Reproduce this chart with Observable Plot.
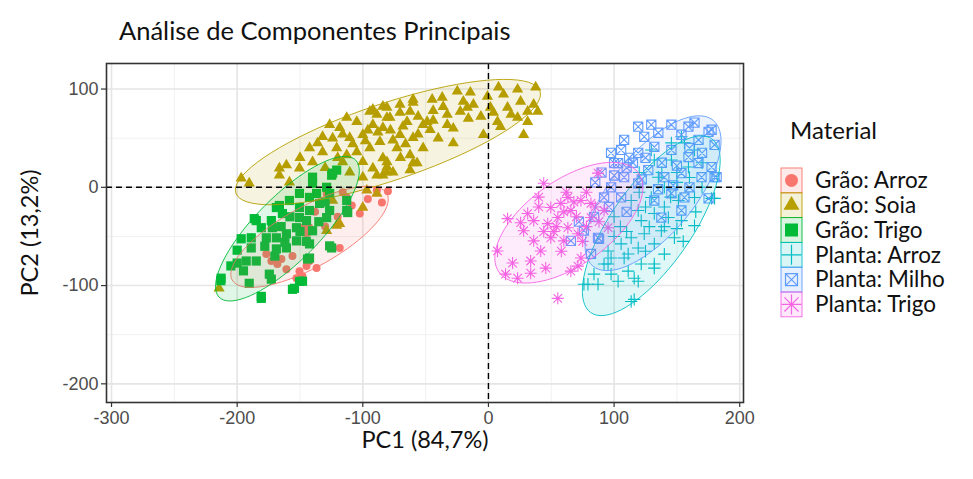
<!DOCTYPE html>
<html><head><meta charset="utf-8">
<script src="https://cdn.jsdelivr.net/npm/d3@7"></script>
<script src="https://cdn.jsdelivr.net/npm/@observablehq/plot@0.6"></script>
<style>
body{margin:0;background:#fff;}
#wrap{position:relative;width:973px;height:479px;overflow:hidden;font-family:Lato,sans-serif;background:#fff;}
#title{position:absolute;left:119px;top:15px;font-size:25.5px;color:#111;white-space:nowrap;}
#chart{position:absolute;left:0;top:50px;}
#legend{position:absolute;left:0;top:0;pointer-events:none;}
</style></head><body>
<div id="wrap"><div id="title">Análise de Componentes Principais</div><div id="chart"></div><svg id="legend" width="973" height="479"></svg></div>
<script>
// ---------- data ----------
const groups = ["Grão: Arroz","Grão: Soia","Grão: Trigo","Planta: Arroz","Planta: Milho","Planta: Trigo"];
const colors = ["#F8766D","#B79F00","#00BA38","#00BFC4","#619CFF","#F564E3"];
const xTicks = [-300,-200,-100,0,100,200];
const yTicks = [-200,-100,0,100];
const xMinor = [-250,-150,-50,50,150];
const yMinor = [-150,-50,50];
const xLabel = "PC1 (84,7%)";
const yLabel = "PC2 (13,2%)";
const legendTitle = "Material";

const graoArroz = [[-84.8,-15.4],[-88.8,-3.1],[-80,-4],[-102.4,-26.7],[-108.8,-18.5],[-112.8,-10.3],[-128.8,-6.2],[-118.4,-61.7],[-168,-78],[-160.8,-83.3],[-150.4,-85.3],[-172.8,-75],[-144.8,-80.2],[-142.4,-75],[-152.8,-92.5],[-176.8,-67.8],[-164.8,-73],[-148,-90.5],[-136.8,-82.2],[-156,-70],[-130,-40],[-120,-30],[-138,-25],[-116,-5],[-96,-12]];
const graoArrozMean = [[-144.8,-43]];
const graoSoia = [[-24.8,97.7],[-14.4,96.6],[8,101.8],[23.2,99.7],[37.6,101.8],[-0.8,92.5],[12,94.6],[-44.8,89.4],[-36.8,91.5],[-60,89.4],[-20,87.4],[-12,84.3],[1.6,81.2],[15.2,81.2],[25.6,87.4],[36,84.3],[31.2,77.1],[39.2,77.1],[23.2,70.9],[31.2,66.8],[7.2,66.8],[9.6,61.7],[-4,53.5],[28,53.5],[-22.4,77.1],[-16.8,81.2],[-32.8,74],[-32.8,63.7],[-48.8,66.8],[-46.4,58.6],[-70.4,84.3],[-62.4,77.1],[-80.8,81.2],[-78.4,70.9],[-64.8,66.8],[-84,60.7],[-70.4,53.5],[-60,50.4],[-72.8,40.1],[-62.4,32.9],[-60,24.7],[-80.8,25.7],[-76,15.4],[-84,12.3],[-196.8,9.3],[-190.4,4.1],[-160.8,22.6],[-166.4,19.5],[-150.4,19.5],[-142.4,40.1],[-132,51.4],[-126.4,63.7],[-118.4,60.7],[-112.8,70.9],[-104.8,66.8],[-94.4,77.1],[-88.8,74],[-84,82.2],[-80.8,70.9],[-92,63.7],[-100,53.5],[-110.4,50.4],[-120.8,40.1],[-132,36],[-140,25.7],[-112.8,32.9],[-104.8,36],[-94.4,40.1],[-86.4,46.3],[-84,29.8],[-92,19.5],[-88.8,12.3],[-80.8,15.4],[-110.4,15.4],[-116,25.7],[-158.4,5.1],[-166.4,12.3],[-92,79.2],[-70.4,76],[-60,86.4],[-52,63.7],[-56.8,24.7],[-62.4,17.5],[-80.8,20.6],[-96.8,-3.1],[-88.8,-6.2],[-100,10.3],[-128.8,-44.2],[-100,-20.6],[-118.4,-37],[-120.8,-39],[-214.4,-102.8],[-124,-13.4],[-96,58],[-76,48],[-68,62],[-56,72],[-44,78],[-40,50],[-28,45],[-52,40],[-100,26],[-124,50],[-136,45],[-116,54],[-108,44],[-98,47],[-88,56],[-78,58],[-66,44],[-56,54],[-44,68],[-36,82],[-28,60],[-16,70],[-6,72],[4,76],[18,74],[-120,30],[-70,30],[-130,20],[-150,30]];
const graoTrigo = [[-196.8,-52.4],[-188.8,-61.7],[-200,-77.1],[-192.8,-75],[-184.8,-75],[-212.8,-92.5],[-190.4,-97.7],[-180.8,-111],[-174.4,-88.4],[-172.8,-93.5],[-156,-103.8],[-150.4,-95.6],[-144,-73],[-168.8,-62.7],[-176.8,-51.4],[-180.8,-41.1],[-184.8,-33.9],[-172.8,-33.9],[-164,-26.7],[-166.4,-18.5],[-158.4,-13.4],[-150.4,-20.6],[-142.4,-23.6],[-134.4,-16.4],[-152.8,-41.1],[-160.8,-47.3],[-168.8,-51.4],[-152.8,-54.5],[-142.4,-57.6],[-160.8,-61.7],[-172,-41.1],[-140,4.1],[-128.8,0],[-136.8,-6.2],[-126.4,-6.2],[-124.8,12.3],[-120.8,17.5],[-112.8,-23.6],[-126.4,-23.6],[-128.8,-30.8],[-124.8,-61.7],[-142.4,-72],[-148,-95.6],[-154.4,-102.8],[-186.4,-31.9],[-188.8,-51.4],[-144.8,-33.9],[-150.4,-30.8],[-140,-44.2],[-150.4,-6.2],[-168.8,-20.6],[-142.4,-10.3],[-140,10.3],[-124,14.4],[-112.8,-13.4],[-112,-25.7],[-180.8,-113],[-126.4,-59.6],[-200,-64],[-213,-95],[-178,-60],[-165,-40],[-158,-30],[-150,-45],[-145,-55],[-135,-35],[-130,-15],[-162,-56],[-170,-70],[-195,-85],[-205,-80]];
const plantaArroz = [[153.6,51.4],[145.6,27.8],[132,27.8],[159.2,20.6],[140,0],[129.6,-10.3],[151.2,-13.4],[164,-10.3],[177.6,-11.3],[164,-39],[153.6,-33.9],[143.2,-30.8],[132,-26.7],[121.6,-33.9],[137.6,-44.2],[124,-47.3],[113.6,-51.4],[105.6,-57.6],[119.2,-61.7],[132,-57.6],[108,-72],[97.6,-72],[92,-78.1],[121.6,-78.1],[132,-78.1],[84,-88.4],[97.6,-88.4],[111.2,-85.3],[76,-98.7],[87.2,-98.7],[103.2,-95.6],[119.2,-95.6],[113.6,-116.2],[119.2,-23.6],[113.6,-13.4],[145.6,45.2],[156,45.2],[164,38],[180,-11.3],[135.2,10.3],[129.6,38],[79.2,-98.7],[95.2,-78.1],[116,-92.5],[116,-114],[132,-82.2],[148,-51.4],[95.2,-64.8],[111.2,-67.8],[125,-20],[140,-20],[150,5],[120,15],[105,-40],[100,-30],[138,15],[150,15],[160,10],[170,0],[145,-10],[120,-5],[128,-40],[140,-40],[150,-42],[110,-45],[100,-50],[125,-65],[140,-68],[155,-55],[170,25],[165,-25]];
const plantaMilho = [[119.2,61.7],[129.6,63.7],[145.6,63.7],[159.2,61.7],[175.2,56.5],[180,43.2],[167.2,48.3],[153.6,53.5],[135.2,55.5],[124,51.4],[108,48.3],[97.6,35],[105.6,38],[100,24.7],[119.2,35],[132,41.1],[145.6,38],[159.2,30.8],[167.2,24.7],[177.6,20.6],[181.6,10.3],[169.6,10.3],[175.2,-11.3],[156,-10.3],[145.6,-6.2],[132,-13.4],[119.2,4.1],[108,10.3],[127.2,17.5],[140,10.3],[153.6,14.4],[97.6,0],[92,-10.3],[105.6,-10.3],[87.2,-51.4],[81.6,-67.8],[153.6,-23.6],[137.6,-30.8],[103.2,24.7],[177.6,58.6],[180,10.3],[164,65.8],[65.6,-54.5],[76,-44],[84,-30],[72,-35],[88,-52.4],[115,25],[90,15],[85,5],[112,30],[125,30],[138,25],[150,22],[160,40],[170,35],[110,20],[122,8],[135,-2],[147,2],[160,0],[100,12],[96,-20],[110,-25]];
const plantaTrigo = [[44,4.1],[15.2,-31.9],[7.2,-64.8],[19.2,-77.1],[13.6,-88.4],[23.2,-92.5],[33.6,-87.4],[33.6,-75],[45.6,-82.2],[55.2,-113],[65.6,-85.3],[71.2,-80.2],[28,-44.2],[36,-33.9],[36,-54.5],[47.2,-37],[55.2,-30.8],[49.6,-20.6],[57.6,-16.4],[65.6,-23.6],[63.2,-10.3],[73.6,-13.4],[81.6,-16.4],[87.2,14.4],[81.6,-30.8],[71.2,-47.3],[41.6,-64.8],[60,-54.5],[49.6,-51.4],[31.2,-26.7],[25.6,-36],[73.6,-72],[63.2,-41.1],[95.2,-41.1],[92,-23.6],[40,-20],[52,-45],[62,-5],[78,-5],[60,-25],[70,-30],[78,-40],[85,-20],[68,-15],[54,-40],[44,-45],[88,-35],[75,-55],[58,-65],[40,-10]];

// ellipse parameters: centre (x,y), semi-axis vector A (x,y), semi-axis vector B (x,y), in data units
const ellGraoArroz = [-142.4,-50.4,61.6,43.9,11.6,-26.9];
const ellGraoSoia = [-80,46,121,52,10,-37];
const ellGraoTrigo = [-160,-42.1,54.3,69.8,18.1,-23.3];
const ellPlantaArroz = [129.6,-39.1,48.2,88.4,26.2,-23.5];
const ellPlantaMilho = [131,-6,48,74,25,-27];
const ellPlantaTrigo = [64,-36,55.7,50.2,19.3,-35.4];

// ---------- symbols ----------
const R = s => Math.sqrt(s/Math.PI);
const symTri = {draw(c,s){const r=R(s),h=r*1.732;c.moveTo(0,-2*h/3);c.lineTo(r,h/3);c.lineTo(-r,h/3);c.closePath();}};
const symSq = {draw(c,s){const r=R(s);c.rect(-r,-r,2*r,2*r);}};
const symPlus = {draw(c,s){const r=R(s);c.moveTo(-r,0);c.lineTo(r,0);c.moveTo(0,-r);c.lineTo(0,r);}};
const symSqX = {draw(c,s){const r=R(s);c.rect(-r,-r,2*r,2*r);c.moveTo(-r,-r);c.lineTo(r,r);c.moveTo(r,-r);c.lineTo(-r,r);}};
const symAst = {draw(c,s){const r=R(s),d=r*0.7071;c.moveTo(-r,0);c.lineTo(r,0);c.moveTo(0,-r);c.lineTo(0,r);c.moveTo(-d,-d);c.lineTo(d,d);c.moveTo(d,-d);c.lineTo(-d,d);}};
const symCirc = {draw(c,s){const r=R(s);c.moveTo(r,0);c.arc(0,0,r,0,2*Math.PI);}};

const pointSets = [graoArroz, graoSoia, graoTrigo, plantaArroz, plantaMilho, plantaTrigo];
const ellSets = [ellGraoArroz, ellGraoSoia, ellGraoTrigo, ellPlantaArroz, ellPlantaMilho, ellPlantaTrigo];
const syms = [symCirc, symTri, symSq, symPlus, symSqX, symAst];
const rs = [4, 5.6, 4.6, 6.2, 4.6, 6];
const filled = [true, true, true, false, false, false];

function ellipsePts(p){
  const out=[]; const n=80;
  for(let i=0;i<n;i++){const t=2*Math.PI*i/n; out.push([p[0]+p[2]*Math.cos(t)+p[4]*Math.sin(t), p[1]+p[3]*Math.cos(t)+p[5]*Math.sin(t)]);}
  return out;
}

const marks = [
  Plot.gridX(xMinor,{stroke:"#f1f1f1",strokeOpacity:1,strokeWidth:1}),
  Plot.gridY(yMinor,{stroke:"#f1f1f1",strokeOpacity:1,strokeWidth:1}),
  Plot.gridX(xTicks,{stroke:"#e5e5e5",strokeOpacity:1,strokeWidth:1.6}),
  Plot.gridY(yTicks,{stroke:"#e5e5e5",strokeOpacity:1,strokeWidth:1.6}),
];
pointSets.forEach((pts,i)=>{
  marks.push(Plot.dot(pts,{x:d=>d[0],y:d=>d[1],symbol:syms[i],r:rs[i],
    fill: filled[i]?colors[i]:"none", stroke: filled[i]?"none":colors[i], strokeWidth:1.1}));
  if(i===0) marks.push(Plot.dot(graoArrozMean,{x:d=>d[0],y:d=>d[1],symbol:symCirc,r:7.5,fill:colors[0]}));
});
ellSets.forEach((p,i)=>{
  marks.push(Plot.line(ellipsePts(p),{x:d=>d[0],y:d=>d[1],curve:"linear-closed",fill:colors[i],fillOpacity:0.12,stroke:colors[i],strokeWidth:0.9}));
});
marks.push(
  Plot.ruleX([0],{stroke:"#000",strokeWidth:1.4,strokeDasharray:"6,4"}),
  Plot.ruleY([0],{stroke:"#000",strokeWidth:1.4,strokeDasharray:"6,4"}),
  Plot.frame({stroke:"#333",strokeWidth:1.6}),
  Plot.axisX(xTicks,{tickSize:5,tickPadding:4,tickFormat:d=>String(d),fontSize:18,fill:"#4d4d4d",stroke:"#333",strokeWidth:1.2,label:null}),
  Plot.axisY(yTicks,{tickSize:5,tickPadding:3,tickFormat:d=>String(d),fontSize:18,fill:"#4d4d4d",stroke:"#333",strokeWidth:1.2,label:null}),
  Plot.text([xLabel],{frameAnchor:"bottom",dy:38,lineAnchor:"middle",textAnchor:"middle",text:d=>d,fontFamily:"Lato",fontSize:23.5,fill:"#111"}),
  Plot.text([yLabel],{frameAnchor:"left",dx:-76,rotate:-90,lineAnchor:"middle",textAnchor:"middle",text:d=>d,fontFamily:"Lato",fontSize:23.5,fill:"#111"})
);

const chart = Plot.plot({
  width:973, height:429,
  marginLeft:106, marginRight:230, marginTop:13, marginBottom:77,
  x:{domain:[-304,203],label:null},
  y:{domain:[-219,126],label:null},
  style:{fontFamily:"'Liberation Sans', Arial, sans-serif",background:"transparent",overflow:"visible"},
  marks
});
document.getElementById("chart").appendChild(chart);

// ---------- legend ----------
const lg = d3.select("#legend");
const lx = 781, ly0 = 168, kh = 24.8, kw = 21;
lg.append("text").attr("x",790).attr("y",139).attr("font-family","Lato").attr("font-size",24).attr("fill","#111").text(legendTitle);
const keyR = [6.5, 8, 6.5, 10, 6, 10];
groups.forEach((g,i)=>{
  const y = ly0 + i*kh;
  lg.append("rect").attr("x",lx).attr("y",y).attr("width",kw).attr("height",kh)
    .attr("fill",colors[i]).attr("fill-opacity",0.15).attr("stroke",colors[i]).attr("stroke-width",0.9);
  lg.append("path").attr("transform",`translate(${lx+kw/2},${y+kh/2})`)
    .attr("d",d3.symbol().type(syms[i]).size(Math.PI*keyR[i]*keyR[i])())
    .attr("fill",filled[i]?colors[i]:"none").attr("stroke",filled[i]?"none":colors[i]).attr("stroke-width",1.2);
  lg.append("text").attr("x",815).attr("y",y+kh/2).attr("dy","0.35em")
    .attr("font-family","Lato").attr("font-size",22.5).attr("fill","#111").text(g);
});
</script>
</body></html>
